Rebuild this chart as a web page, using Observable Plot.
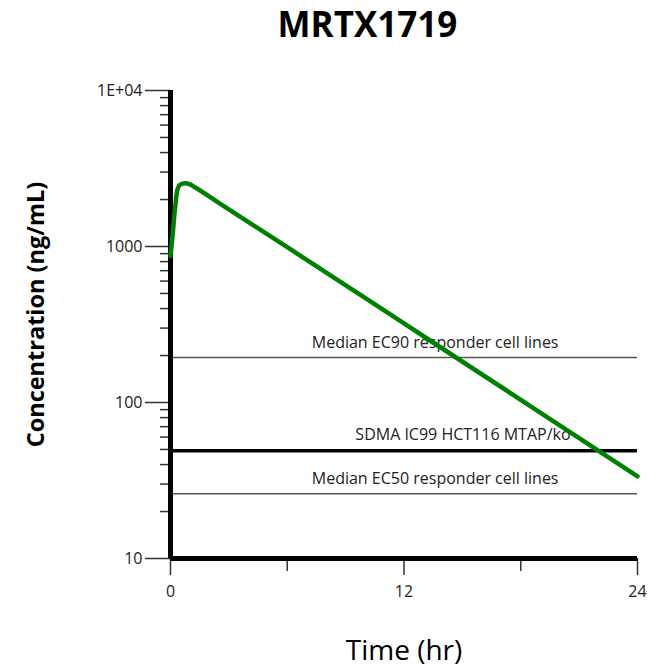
<!DOCTYPE html>
<html>
<head>
<meta charset="utf-8">
<script src="https://cdn.jsdelivr.net/npm/d3@7"></script>
<script src="https://cdn.jsdelivr.net/npm/@observablehq/plot@0.6"></script>
<style>
  html, body { margin: 0; padding: 0; background: white; }
</style>
</head>
<body>
<div id="chart"></div>
<script>
// ---- data ----
const chartTitle = "MRTX1719";
const xLabel = "Time (hr)";
const yLabel = "Concentration (ng/mL)";

const times = [0, 0.1, 0.2, 0.26, 0.34, 0.5, 0.75, 1.0, 1.25, 2.5, 6, 12, 18, 24];
const conc  = [870, 1150, 1600, 1890, 2280, 2490, 2545, 2500, 2400, 1900, 990, 321, 104, 33.6];

const refNames  = ["Median EC90 responder cell lines", "SDMA IC99 HCT116 MTAP/ko", "Median EC50 responder cell lines"];
const refValues = [194, 49, 26];

const xMajor = [0, 12, 24];
const xMinor = [6, 18];
const yMajor = [10, 100, 1000, 10000];
const yMajorLabels = ["10", "100", "1000", "1E+04"];
const yMinor = [20, 30, 40, 50, 60, 70, 80, 90, 200, 300, 400, 500, 600, 700, 800, 900, 2000, 3000, 4000, 5000, 6000, 7000, 8000, 9000];

// ---- build ----
const curve = times.map((t, i) => ({t, c: conc[i]}));
const refs = refNames.map((name, i) => ({name, v: refValues[i]}));

const chart = Plot.plot({
  width: 651,
  height: 670,
  marginLeft: 170,
  marginRight: 14,
  marginTop: 90,
  marginBottom: 112,
  x: {domain: [0, 24]},
  y: {type: "log", domain: [10, 10000]},
  style: {fontFamily: "'Open Sans', sans-serif", fontSize: "16px", color: "#222", background: "white"},
  marks: [
    // y axis ticks
    Plot.axisY({ticks: yMajor, tickSize: 25, tickPadding: 3, tickFormat: d => yMajorLabels[yMajor.indexOf(d)], label: null, stroke: "#333", strokeWidth: 1.5, fontSize: 16}),
    Plot.axisY({ticks: yMinor, tickSize: 10, tickFormat: () => "", label: null, stroke: "#333", strokeWidth: 1.5}),
    // x axis ticks
    Plot.axisX({ticks: xMajor, tickSize: 17, tickPadding: 10, label: null, stroke: "#333", strokeWidth: 1.5, fontSize: 16}),
    Plot.axisX({ticks: xMinor, tickSize: 13, tickFormat: () => "", label: null, stroke: "#333", strokeWidth: 1.5}),
    // reference lines
    Plot.ruleY([refs[0]], {y: "v", stroke: "#555", strokeWidth: 1.5}),
    Plot.ruleY([refs[1]], {y: "v", stroke: "#000", strokeWidth: 3.5}),
    Plot.ruleY([refs[2]], {y: "v", stroke: "#555", strokeWidth: 1.5}),
    Plot.text([refs[0], refs[2]], {x: () => 13.6, y: "v", text: "name", dy: -15, textAnchor: "middle", fontSize: 16, fill: "#222"}),
    Plot.text([refs[1]], {x: () => 9.5, y: "v", text: "name", dy: -16, textAnchor: "start", fontSize: 16, fill: "#222"}),
    // axis lines
    Plot.ruleX([0], {stroke: "#000", strokeWidth: 5}),
    Plot.ruleY([10], {stroke: "#000", strokeWidth: 5}),
    // concentration curve
    Plot.line(curve, {x: "t", y: "c", stroke: "#008000", strokeWidth: 4.5, curve: "monotone-x", strokeLinecap: "round"}),
    // titles
    Plot.text([chartTitle], {frameAnchor: "top-left", dx: 197, dy: -65, fontSize: 35, fontWeight: "bold", fill: "#000", textAnchor: "middle", lineAnchor: "middle"}),
    Plot.text([yLabel], {frameAnchor: "left", dx: -134, dy: -10, rotate: -90, fontSize: 23.5, fontWeight: "bold", fill: "#000", textAnchor: "middle", lineAnchor: "middle"}),
    Plot.text([xLabel], {frameAnchor: "bottom", dy: 93, fontSize: 28, fill: "#000", textAnchor: "middle", lineAnchor: "middle"})
  ]
});
document.getElementById("chart").appendChild(chart);
</script>
</body>
</html>
